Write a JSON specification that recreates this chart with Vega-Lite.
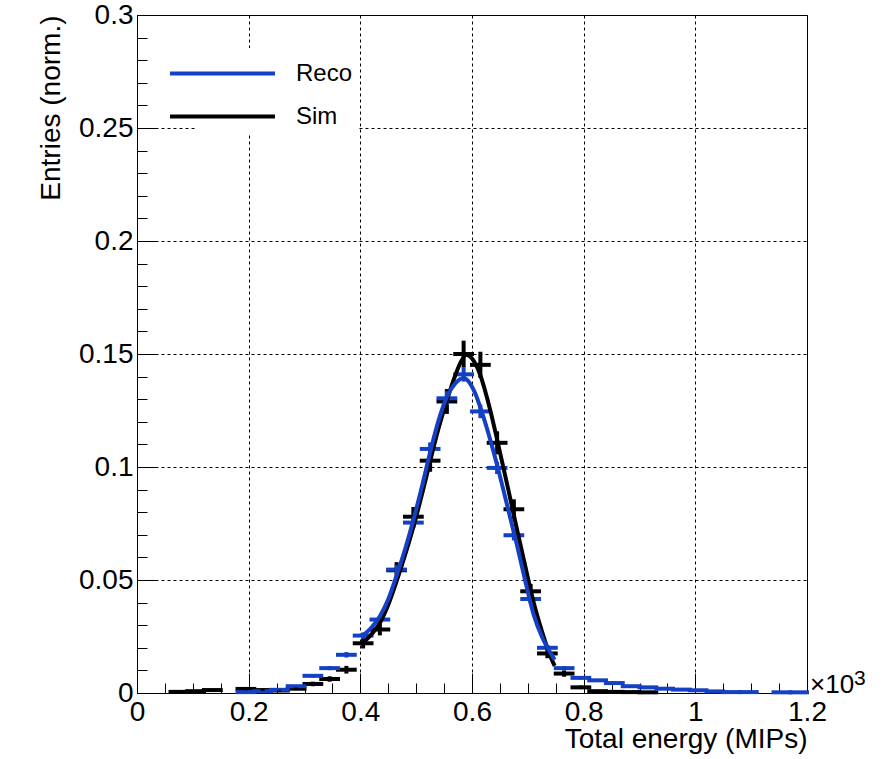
{
  "$schema": "https://vega.github.io/schema/vega-lite/v6.json",
  "width": 670,
  "height": 678,
  "autosize": "none",
  "padding": {"left": 137, "top": 15, "right": 84, "bottom": 66},
  "background": "white",
  "config": {
    "font": "Liberation Sans",
    "view": {"stroke": "black", "strokeWidth": 1},
    "axis": {"labelFont": "Liberation Sans", "titleFont": "Liberation Sans", "labelColor": "black", "titleColor": "black", "tickColor": "black", "titleFontWeight": "normal", "labelFlush": false, "labelOverlap": false, "labelBound": false, "domain": false}
  },
  "datasets": {
    "points": [
      {"series": "Sim", "e": 0.075, "e0": 0.06, "e1": 0.09, "v": 0.0005, "err": 0.0003},
      {"series": "Sim", "e": 0.105, "e0": 0.09, "e1": 0.12, "v": 0.0008, "err": 0.0004},
      {"series": "Sim", "e": 0.135, "e0": 0.12, "e1": 0.15, "v": 0.0013, "err": 0.0005},
      {"series": "Sim", "e": 0.195, "e0": 0.18, "e1": 0.21, "v": 0.0018, "err": 0.0006},
      {"series": "Sim", "e": 0.225, "e0": 0.21, "e1": 0.24, "v": 0.0013, "err": 0.0005},
      {"series": "Sim", "e": 0.255, "e0": 0.24, "e1": 0.27, "v": 0.0011, "err": 0.0005},
      {"series": "Sim", "e": 0.285, "e0": 0.27, "e1": 0.30, "v": 0.0019, "err": 0.0006},
      {"series": "Sim", "e": 0.315, "e0": 0.30, "e1": 0.33, "v": 0.0040, "err": 0.0010},
      {"series": "Sim", "e": 0.345, "e0": 0.33, "e1": 0.36, "v": 0.0062, "err": 0.0012},
      {"series": "Sim", "e": 0.375, "e0": 0.36, "e1": 0.39, "v": 0.0103, "err": 0.0017},
      {"series": "Sim", "e": 0.405, "e0": 0.39, "e1": 0.42, "v": 0.0220, "err": 0.0023},
      {"series": "Sim", "e": 0.435, "e0": 0.42, "e1": 0.45, "v": 0.0281, "err": 0.0026},
      {"series": "Sim", "e": 0.465, "e0": 0.45, "e1": 0.48, "v": 0.0543, "err": 0.0036},
      {"series": "Sim", "e": 0.495, "e0": 0.48, "e1": 0.51, "v": 0.0780, "err": 0.0043},
      {"series": "Sim", "e": 0.525, "e0": 0.51, "e1": 0.54, "v": 0.1028, "err": 0.0049},
      {"series": "Sim", "e": 0.555, "e0": 0.54, "e1": 0.57, "v": 0.1290, "err": 0.0055},
      {"series": "Sim", "e": 0.585, "e0": 0.57, "e1": 0.60, "v": 0.1500, "err": 0.0059},
      {"series": "Sim", "e": 0.615, "e0": 0.60, "e1": 0.63, "v": 0.1452, "err": 0.0058},
      {"series": "Sim", "e": 0.645, "e0": 0.63, "e1": 0.66, "v": 0.1107, "err": 0.0051},
      {"series": "Sim", "e": 0.675, "e0": 0.66, "e1": 0.69, "v": 0.0813, "err": 0.0044},
      {"series": "Sim", "e": 0.705, "e0": 0.69, "e1": 0.72, "v": 0.0450, "err": 0.0033},
      {"series": "Sim", "e": 0.735, "e0": 0.72, "e1": 0.75, "v": 0.0175, "err": 0.0021},
      {"series": "Sim", "e": 0.765, "e0": 0.75, "e1": 0.78, "v": 0.0086, "err": 0.0014},
      {"series": "Sim", "e": 0.795, "e0": 0.78, "e1": 0.81, "v": 0.0025, "err": 0.0008},
      {"series": "Sim", "e": 0.825, "e0": 0.81, "e1": 0.84, "v": 0.0008, "err": 0.0004},
      {"series": "Sim", "e": 0.855, "e0": 0.84, "e1": 0.87, "v": 0.0005, "err": 0.0003},
      {"series": "Sim", "e": 0.885, "e0": 0.87, "e1": 0.90, "v": 0.0004, "err": 0.0003},
      {"series": "Sim", "e": 0.915, "e0": 0.90, "e1": 0.93, "v": 0.0003, "err": 0.0002},
      {"series": "Reco", "e": 0.195, "e0": 0.18, "e1": 0.21, "v": 0.0004, "err": 0.0002},
      {"series": "Reco", "e": 0.225, "e0": 0.21, "e1": 0.24, "v": 0.0008, "err": 0.0002},
      {"series": "Reco", "e": 0.255, "e0": 0.24, "e1": 0.27, "v": 0.0014, "err": 0.0003},
      {"series": "Reco", "e": 0.285, "e0": 0.27, "e1": 0.30, "v": 0.0030, "err": 0.0005},
      {"series": "Reco", "e": 0.315, "e0": 0.30, "e1": 0.33, "v": 0.0076, "err": 0.0008},
      {"series": "Reco", "e": 0.345, "e0": 0.33, "e1": 0.36, "v": 0.0110, "err": 0.0009},
      {"series": "Reco", "e": 0.375, "e0": 0.36, "e1": 0.39, "v": 0.0169, "err": 0.0012},
      {"series": "Reco", "e": 0.405, "e0": 0.39, "e1": 0.42, "v": 0.0254, "err": 0.0014},
      {"series": "Reco", "e": 0.435, "e0": 0.42, "e1": 0.45, "v": 0.0325, "err": 0.0016},
      {"series": "Reco", "e": 0.465, "e0": 0.45, "e1": 0.48, "v": 0.0546, "err": 0.0021},
      {"series": "Reco", "e": 0.495, "e0": 0.48, "e1": 0.51, "v": 0.0754, "err": 0.0024},
      {"series": "Reco", "e": 0.525, "e0": 0.51, "e1": 0.54, "v": 0.1080, "err": 0.0029},
      {"series": "Reco", "e": 0.555, "e0": 0.54, "e1": 0.57, "v": 0.1304, "err": 0.0031},
      {"series": "Reco", "e": 0.585, "e0": 0.57, "e1": 0.60, "v": 0.1410, "err": 0.0032},
      {"series": "Reco", "e": 0.615, "e0": 0.60, "e1": 0.63, "v": 0.1246, "err": 0.0030},
      {"series": "Reco", "e": 0.645, "e0": 0.63, "e1": 0.66, "v": 0.0996, "err": 0.0027},
      {"series": "Reco", "e": 0.675, "e0": 0.66, "e1": 0.69, "v": 0.0698, "err": 0.0023},
      {"series": "Reco", "e": 0.705, "e0": 0.69, "e1": 0.72, "v": 0.0416, "err": 0.0017},
      {"series": "Reco", "e": 0.735, "e0": 0.72, "e1": 0.75, "v": 0.0200, "err": 0.0013},
      {"series": "Reco", "e": 0.765, "e0": 0.75, "e1": 0.78, "v": 0.0110, "err": 0.0009},
      {"series": "Reco", "e": 0.795, "e0": 0.78, "e1": 0.81, "v": 0.0067, "err": 0.0007},
      {"series": "Reco", "e": 0.825, "e0": 0.81, "e1": 0.84, "v": 0.0056, "err": 0.0006},
      {"series": "Reco", "e": 0.855, "e0": 0.84, "e1": 0.87, "v": 0.0044, "err": 0.0006},
      {"series": "Reco", "e": 0.885, "e0": 0.87, "e1": 0.90, "v": 0.0030, "err": 0.0005},
      {"series": "Reco", "e": 0.915, "e0": 0.90, "e1": 0.93, "v": 0.0025, "err": 0.0004},
      {"series": "Reco", "e": 0.945, "e0": 0.93, "e1": 0.96, "v": 0.0019, "err": 0.0004},
      {"series": "Reco", "e": 0.975, "e0": 0.96, "e1": 0.99, "v": 0.0015, "err": 0.0003},
      {"series": "Reco", "e": 1.005, "e0": 0.99, "e1": 1.02, "v": 0.0012, "err": 0.0003},
      {"series": "Reco", "e": 1.035, "e0": 1.02, "e1": 1.05, "v": 0.0007, "err": 0.0002},
      {"series": "Reco", "e": 1.065, "e0": 1.05, "e1": 1.08, "v": 0.0004, "err": 0.0002},
      {"series": "Reco", "e": 1.095, "e0": 1.08, "e1": 1.11, "v": 0.0004, "err": 0.0002},
      {"series": "Reco", "e": 1.155, "e0": 1.14, "e1": 1.17, "v": 0.0003, "err": 0.0001},
      {"series": "Reco", "e": 1.185, "e0": 1.17, "e1": 1.20, "v": 0.0003, "err": 0.0001}
    ],
    "curves": [
      {"series": "Sim", "e": 0.405, "v": 0.0222},
      {"series": "Sim", "e": 0.42, "v": 0.0260},
      {"series": "Sim", "e": 0.435, "v": 0.0310},
      {"series": "Sim", "e": 0.45, "v": 0.0390},
      {"series": "Sim", "e": 0.465, "v": 0.0495},
      {"series": "Sim", "e": 0.48, "v": 0.0610},
      {"series": "Sim", "e": 0.495, "v": 0.0735},
      {"series": "Sim", "e": 0.51, "v": 0.0875},
      {"series": "Sim", "e": 0.525, "v": 0.1025},
      {"series": "Sim", "e": 0.54, "v": 0.1170},
      {"series": "Sim", "e": 0.555, "v": 0.1295},
      {"series": "Sim", "e": 0.57, "v": 0.1405},
      {"series": "Sim", "e": 0.58, "v": 0.1465},
      {"series": "Sim", "e": 0.59, "v": 0.1497},
      {"series": "Sim", "e": 0.60, "v": 0.1480},
      {"series": "Sim", "e": 0.6135, "v": 0.1416},
      {"series": "Sim", "e": 0.631, "v": 0.1268},
      {"series": "Sim", "e": 0.649, "v": 0.1077},
      {"series": "Sim", "e": 0.665, "v": 0.0900},
      {"series": "Sim", "e": 0.68, "v": 0.0730},
      {"series": "Sim", "e": 0.695, "v": 0.0565},
      {"series": "Sim", "e": 0.71, "v": 0.0405},
      {"series": "Sim", "e": 0.725, "v": 0.0275},
      {"series": "Sim", "e": 0.74, "v": 0.0165},
      {"series": "Sim", "e": 0.748, "v": 0.0120},
      {"series": "Reco", "e": 0.402, "v": 0.0250},
      {"series": "Reco", "e": 0.42, "v": 0.0290},
      {"series": "Reco", "e": 0.435, "v": 0.0340},
      {"series": "Reco", "e": 0.45, "v": 0.0415},
      {"series": "Reco", "e": 0.465, "v": 0.0520},
      {"series": "Reco", "e": 0.48, "v": 0.0635},
      {"series": "Reco", "e": 0.495, "v": 0.0765},
      {"series": "Reco", "e": 0.51, "v": 0.0910},
      {"series": "Reco", "e": 0.525, "v": 0.1065},
      {"series": "Reco", "e": 0.54, "v": 0.1205},
      {"series": "Reco", "e": 0.555, "v": 0.1310},
      {"series": "Reco", "e": 0.57, "v": 0.1370},
      {"series": "Reco", "e": 0.585, "v": 0.1394},
      {"series": "Reco", "e": 0.595, "v": 0.1375},
      {"series": "Reco", "e": 0.605, "v": 0.1330},
      {"series": "Reco", "e": 0.62, "v": 0.1225},
      {"series": "Reco", "e": 0.635, "v": 0.1100},
      {"series": "Reco", "e": 0.65, "v": 0.0960},
      {"series": "Reco", "e": 0.665, "v": 0.0810},
      {"series": "Reco", "e": 0.68, "v": 0.0660},
      {"series": "Reco", "e": 0.695, "v": 0.0500},
      {"series": "Reco", "e": 0.71, "v": 0.0350},
      {"series": "Reco", "e": 0.725, "v": 0.0250},
      {"series": "Reco", "e": 0.74, "v": 0.0180},
      {"series": "Reco", "e": 0.748, "v": 0.0147}
    ]
  },
  "layer": [
    {
      "data": {"name": "points"},
      "mark": {"type": "rule", "strokeWidth": 4, "strokeCap": "square"},
      "encoding": {
        "x": {"field": "e0", "type": "quantitative", "scale": {"domain": [0, 1.2], "nice": false, "zero": false},
          "axis": {"orient": "bottom", "values": [0, 0.2, 0.4, 0.6, 0.8, 1, 1.2], "format": "~g", "labelFontSize": 28, "tickSize": -20, "labelPadding": 25, "grid": true, "gridDash": [3, 3], "gridColor": "black", "gridOpacity": 1, "gridWidth": 1, "title": "Total energy (MIPs)", "titleFontSize": 28, "titleAnchor": "end", "titlePadding": -1}},
        "x2": {"field": "e1"},
        "y": {"field": "v", "type": "quantitative", "scale": {"domain": [0, 0.3], "nice": false},
          "axis": {"orient": "left", "values": [0, 0.05, 0.1, 0.15, 0.2, 0.25, 0.3], "format": "~g", "labelFontSize": 28, "tickSize": -20, "labelPadding": 24, "grid": true, "gridDash": [3, 3], "gridColor": "black", "gridOpacity": 1, "gridWidth": 1, "title": "Entries (norm.)", "titleFontSize": 28, "titleAnchor": "end", "titlePadding": 13}},
        "color": {"field": "series", "type": "nominal", "scale": {"domain": ["Reco", "Sim"], "range": ["#1440c4", "#000000"]},
          "legend": {"orient": "none", "legendX": 60, "legendY": 33, "title": null, "symbolType": "M-3,0H3", "symbolSize": 1225, "symbolStrokeWidth": 4, "labelFontSize": 24, "labelFont": "Liberation Sans", "labelColor": "black", "labelOffset": 54, "rowPadding": 11, "fillColor": "white", "padding": 6}}
      }
    },
    {
      "data": {"name": "points"},
      "mark": {"type": "errorbar", "ticks": false, "thickness": 4},
      "encoding": {
        "x": {"field": "e", "type": "quantitative", "axis": null},
        "y": {"field": "v", "type": "quantitative", "axis": null},
        "yError": {"field": "err"},
        "color": {"field": "series", "type": "nominal", "legend": null}
      }
    },
    {
      "data": {"name": "curves"},
      "mark": {"type": "line", "strokeWidth": 4, "interpolate": "monotone"},
      "encoding": {
        "x": {"field": "e", "type": "quantitative",
          "axis": {"orient": "bottom", "values": [0.05, 0.1, 0.15, 0.25, 0.3, 0.35, 0.45, 0.5, 0.55, 0.65, 0.7, 0.75, 0.85, 0.9, 0.95, 1.05, 1.1, 1.15], "labels": false, "tickSize": -10, "grid": false, "title": null}},
        "y": {"field": "v", "type": "quantitative",
          "axis": {"orient": "left", "values": [0.01, 0.02, 0.03, 0.04, 0.06, 0.07, 0.08, 0.09, 0.11, 0.12, 0.13, 0.14, 0.16, 0.17, 0.18, 0.19, 0.21, 0.22, 0.23, 0.24, 0.26, 0.27, 0.28, 0.29], "labels": false, "tickSize": -10, "grid": false, "title": null}},
        "color": {"field": "series", "type": "nominal", "legend": null},
        "detail": {"field": "series"}
      }
    },
    {
      "data": {"values": [{"label": "×10"}]},
      "mark": {"type": "text", "align": "left", "baseline": "alphabetic", "dx": 3, "fontSize": 26, "font": "Liberation Sans", "color": "black"},
      "encoding": {
        "x": {"datum": 1.2, "type": "quantitative", "axis": null},
        "y": {"datum": 0, "type": "quantitative", "axis": null},
        "text": {"field": "label"}
      }
    },
    {
      "data": {"values": [{"label": "3"}]},
      "mark": {"type": "text", "align": "left", "baseline": "alphabetic", "dx": 47, "dy": -8, "fontSize": 21, "font": "Liberation Sans", "color": "black"},
      "encoding": {
        "x": {"datum": 1.2, "type": "quantitative", "axis": null},
        "y": {"datum": 0, "type": "quantitative", "axis": null},
        "text": {"field": "label"}
      }
    }
  ],
  "resolve": {"axis": {"x": "independent", "y": "independent"}}
}
